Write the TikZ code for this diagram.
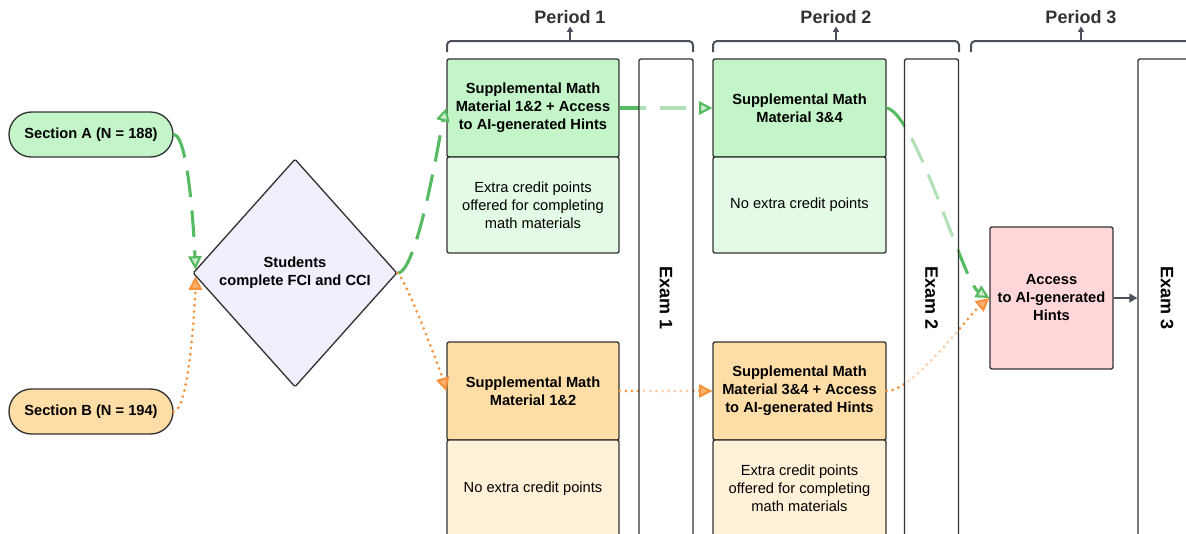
\documentclass[tikz,border=0pt]{standalone}
\usepackage{fontspec}
\setmainfont{Liberation Sans}
\usetikzlibrary{shapes.geometric,arrows.meta}
\definecolor{boxline}{HTML}{333333}
\definecolor{slate}{HTML}{4A505C}
\definecolor{greenbox}{HTML}{C3F5C8}
\definecolor{greenlight}{HTML}{E3FAE4}
\definecolor{orangebox}{HTML}{FFDDA6}
\definecolor{orangelight}{HTML}{FFF1D8}
\definecolor{pinkbox}{HTML}{FFD7D9}
\definecolor{lavender}{HTML}{EFF0FC}
\definecolor{greenarrow}{HTML}{56BB60}
\definecolor{orangearrow}{HTML}{F7923A}

\begin{document}
\begin{tikzpicture}[x=0.75pt,y=0.75pt]
			\tikzset{box/.style={draw=boxline,line width=1pt,rounded corners=1.5pt,inner sep=0pt,align=center,font=\fontsize{11}{13.5}\selectfont}}
			\tikzset{boldbox/.style={box,font=\bfseries\fontsize{11}{13.5}\selectfont}}
			\tikzset{pill/.style={boldbox,minimum width=123pt,minimum height=33.75pt,rounded corners=16.8pt}}
			\tikzset{exambox/.style={box,fill=white,fill opacity=0.55,text opacity=1,rotate=-90,minimum width=358.5pt,minimum height=40.5pt,font=\bfseries\fontsize{13.5}{16}\selectfont}}
			\tikzset{greenline/.style={draw=greenarrow,line width=2.3pt,dash pattern=on 20pt off 10pt,-{Triangle[length=10pt,width=10pt,fill=greenarrow!30!white,line width=1.6pt]}}}
			\tikzset{orangeline/.style={draw=orangearrow,line width=2.3pt,line cap=round,dash pattern=on 0pt off 4.6pt,-{Triangle[length=10pt,width=10pt,fill=orangearrow!70!white,line width=1.6pt,line cap=butt]}}}
			\tikzset{bracket/.style={draw=slate,line width=1.5pt,rounded corners=3pt}}
			\tikzset{period/.style={font=\bfseries\fontsize{13.5}{16}\selectfont,text=boxline,inner sep=2pt}}
			\useasboundingbox (0,0) rectangle (1186,-533);
			% sections and pretest
			\node[pill,fill=greenbox] (secA) at (91,-134.5) {Section A (N = 188)};
			\node[pill,fill=orangebox] (secB) at (91,-411.5) {Section B (N = 194)};
			\node[boldbox,diamond,fill=lavender,minimum width=153pt,minimum height=171pt,rounded corners=1pt] (students) at (295,-273) {Students\\complete FCI and CCI};
			% period 1
			\node[boldbox,fill=greenbox,minimum width=129pt,minimum height=73.5pt] (g1top) at (533,-108) {Supplemental Math\\Material 1\&2 + Access\\to AI-generated Hints};
			\node[box,fill=greenlight,minimum width=129pt,minimum height=72pt] (g1bot) at (533,-205) {Extra credit points\\offered for completing\\math materials};
			\node[boldbox,fill=orangebox,minimum width=129pt,minimum height=73.5pt] (o1top) at (533,-391) {Supplemental Math\\Material 1\&2};
			\node[box,fill=orangelight,minimum width=129pt,minimum height=72.75pt] (o1bot) at (533,-488.5) {No extra credit points};
			% period 2
			\node[boldbox,fill=greenbox,minimum width=129.75pt,minimum height=73.5pt] (g2top) at (799.5,-108) {Supplemental Math\\Material 3\&4};
			\node[box,fill=greenlight,minimum width=129.75pt,minimum height=72pt] (g2bot) at (799.5,-205) {No extra credit points};
			\node[boldbox,fill=orangebox,minimum width=129.75pt,minimum height=73.5pt] (o2top) at (799.5,-391) {Supplemental Math\\Material 3\&4 + Access\\to AI-generated Hints};
			\node[box,fill=orangelight,minimum width=129.75pt,minimum height=72.75pt] (o2bot) at (799.5,-488.5) {Extra credit points\\offered for completing\\math materials};
			% period 3
			\node[boldbox,fill=pinkbox,minimum width=92.25pt,minimum height=106.5pt] (access) at (1051.5,-298) {Access\\to AI-generated\\Hints};
			% connectors
			\draw[greenline] (secA.east) to[out=0,in=92,looseness=0.3] (students.178);
			\draw[orangeline] (secB.east) to[out=0,in=-90,looseness=0.3] (students.182);
			\draw[greenline] (students.east) to[out=0,in=-105,looseness=0.3] (g1top.west);
			\draw[orangeline] (students.east) to[out=-45,in=106,looseness=0.3] (o1top.west);
			\draw[greenline] (g1top.east) -- (g2top.west);
			\draw[orangeline] (o1top.east) -- (o2top.west);
			\draw[greenline] (g2top.east) to[out=-10,in=150,looseness=0.35] (access.west);
			\draw[orangeline] (o2top.east) to[out=0,in=-140,looseness=0.5] (access.west);
			% exams
			\node[exambox] (exam1) at (666,-298) {Exam 1};
			\node[exambox] (exam2) at (931.5,-298) {Exam 2};
			\node[exambox,minimum height=43.5pt] (exam3) at (1167,-298) {Exam 3};
			\draw[draw=slate,line width=1.5pt,-{Triangle[length=6pt,width=6.5pt,fill=slate]}] (access.east) -- (exam3.south);
			% periods
			\draw[bracket] (447,-52) -- (447,-41) -- (693,-41) -- (693,-52);
			\draw[bracket] (713,-52) -- (713,-41) -- (959,-41) -- (959,-52);
			\draw[bracket] (971,-52) -- (971,-41) -- (1200,-41);
			\coordinate (p1mid) at (570,-41);
			\coordinate (p2mid) at (836,-41);
			\coordinate (p3mid) at (1081,-41);
			\node[period] (period1) at (570,-17) {Period 1};
			\node[period] (period2) at (836,-17) {Period 2};
			\node[period] (period3) at (1081,-17) {Period 3};
			\foreach \p in {1,2,3}
				\draw[draw=slate,line width=1.5pt,-{Triangle[length=4pt,width=4.5pt,fill=slate]}] (p\p mid) -- (period\p.south);
		\end{tikzpicture}
\end{document}
